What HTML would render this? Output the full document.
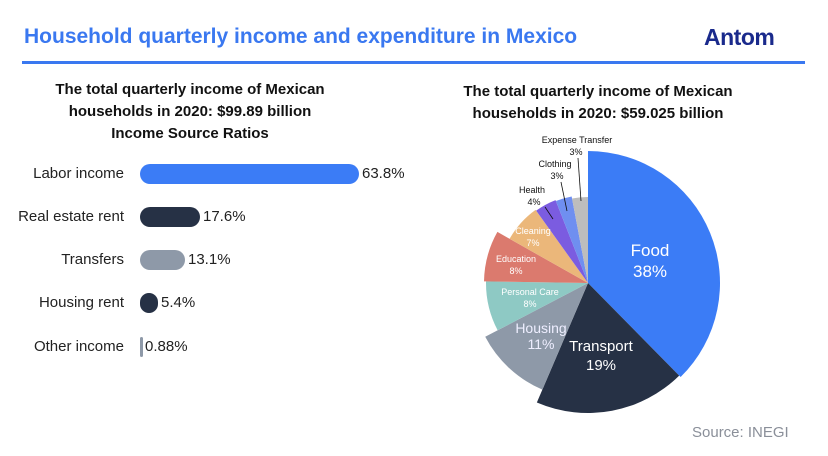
<!DOCTYPE html>
<html><head><meta charset="utf-8"><style>
body{margin:0;width:828px;height:456px;background:#fff;font-family:"Liberation Sans",sans-serif;overflow:hidden;position:relative}
.a{position:absolute;white-space:nowrap}
.t{font-weight:bold;font-size:15px;color:#111;text-align:center;line-height:22px}
.lab{font-size:15px;color:#222;text-align:right;width:124px;left:0}
.bar{position:absolute;height:20px;border-radius:10px;left:140px}
.val{font-size:15px;color:#222}
</style></head><body>
<div class="a" style="left:24px;top:25px;font-size:21px;font-weight:bold;color:#3a78f0">Household quarterly income and expenditure in Mexico</div>
<div class="a" style="left:704px;top:24px;font-size:23px;font-weight:bold;color:#1a2a8c;letter-spacing:-0.5px">Antom</div>
<div class="a" style="left:22px;top:61px;width:783px;height:3px;background:#3a78f0"></div>

<div class="a t" style="left:30px;top:79px;width:320px">The total quarterly income of Mexican<br>households in 2020: $99.89 billion<br>Income Source Ratios</div>

<div class="a lab" style="top:165px">Labor income</div>
<div class="bar" style="top:164px;width:219px;background:#3b7cf6"></div>
<div class="a val" style="left:362px;top:165px">63.8%</div>

<div class="a lab" style="top:208px">Real estate rent</div>
<div class="bar" style="top:207px;width:60px;background:#263145"></div>
<div class="a val" style="left:203px;top:208px">17.6%</div>

<div class="a lab" style="top:251px">Transfers</div>
<div class="bar" style="top:250px;width:45px;background:#8e99a8"></div>
<div class="a val" style="left:188px;top:251px">13.1%</div>

<div class="a lab" style="top:294px">Housing rent</div>
<div class="bar" style="top:293px;width:18px;background:#263145"></div>
<div class="a val" style="left:161px;top:294px">5.4%</div>

<div class="a lab" style="top:338px">Other income</div>
<div class="bar" style="top:337px;width:3px;background:#8e99a8;border-radius:2px"></div>
<div class="a val" style="left:145px;top:338px">0.88%</div>

<div class="a t" style="left:430px;top:81px;width:336px">The total quarterly income of Mexican<br>households in 2020: $59.025 billion</div>

<svg class="a" style="left:0;top:0" width="828" height="456" id="pie"></svg>
<div class="a" style="left:692px;top:424px;font-size:15px;color:#8a8f99">Source: INEGI</div>

<script>
var cx=588,cy=283;
var d=[[38,132,'#3b7cf6'],[19,130,'#263145'],[11,116,'#8e99a8'],[8,102,'#8ec9c4'],[8,104,'#db7a6e'],[7,90,'#ebb77a'],[4,89,'#7b5ce0'],[3,88,'#6f8ff0'],[3,86,'#bdbdbd']];
var tot=101,a=-Math.PI/2,s='';
d.forEach(function(e){var b=a+e[0]/tot*2*Math.PI,r=e[1];
var x1=cx+r*Math.cos(a),y1=cy+r*Math.sin(a),x2=cx+r*Math.cos(b),y2=cy+r*Math.sin(b);
s+='<path d="M'+cx+','+cy+'L'+x1+','+y1+'A'+r+','+r+' 0 '+((b-a)>Math.PI?1:0)+' 1 '+x2+','+y2+'Z" fill="'+e[2]+'"/>';a=b;});
function tx(x,y,t,sz,c){return '<text x="'+x+'" y="'+y+'" font-size="'+sz+'" fill="'+c+'" text-anchor="middle" font-family="Liberation Sans,sans-serif">'+t+'</text>';}
s+=tx(650,256,'Food',17,'#fff')+tx(650,277,'38%',17,'#fff');
s+=tx(601,351,'Transport',15,'#fff')+tx(601,370,'19%',15,'#fff');
s+=tx(541,333,'Housing',14,'#eef')+tx(541,349,'11%',14,'#eef');
s+=tx(530,295,'Personal Care',9,'#fff')+tx(530,307,'8%',9,'#fff');
s+=tx(516,262,'Education',9,'#fff')+tx(516,274,'8%',9,'#fff');
s+=tx(533,234,'Cleaning',9,'#fff')+tx(533,246,'7%',9,'#fff');
s+=tx(532,193,'Health',9,'#111')+tx(534,205,'4%',9,'#111');
s+=tx(555,167,'Clothing',9,'#111')+tx(557,179,'3%',9,'#111');
s+=tx(577,143,'Expense Transfer',9,'#111')+tx(576,155,'3%',9,'#111');
s+='<line x1="545" y1="207" x2="553" y2="219" stroke="#111" stroke-width="0.8"/>';
s+='<line x1="561" y1="182" x2="567" y2="211" stroke="#111" stroke-width="0.8"/>';
s+='<line x1="578" y1="158" x2="581" y2="201" stroke="#111" stroke-width="0.8"/>';
document.getElementById('pie').innerHTML=s;
</script>
</body></html>
